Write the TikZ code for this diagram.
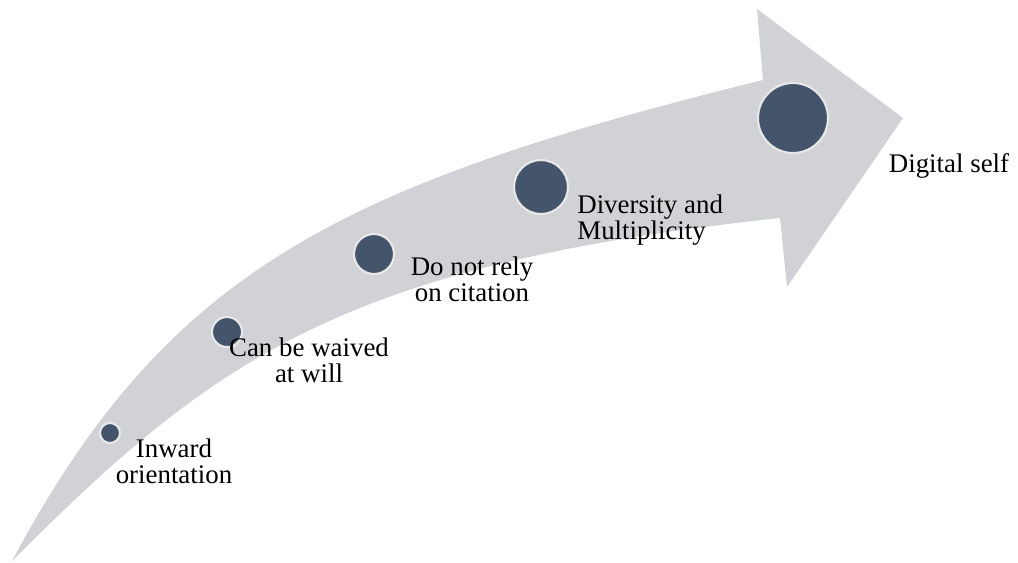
\documentclass[tikz,border=0pt]{standalone}
\usepackage{fontspec}
\setmainfont{Liberation Serif}
\definecolor{bandgray}{RGB}{208,210,214}
\definecolor{dotblue}{RGB}{68,84,106}
\definecolor{rimgray}{RGB}{232,232,232}
\begin{document}
\begin{tikzpicture}[x=0.02cm,y=-0.02cm,
  dot/.style={circle,fill=dotblue,draw=rimgray,line width=1.2pt,inner sep=0pt},
  lbl/.style={font=\fontsize{15.3}{14.8}\selectfont,align=center,inner sep=0pt}]
\useasboundingbox (0,0) rectangle (1018,562);
% band and head
\coordinate (T) at (12,561); \coordinate (U) at (763,80); \coordinate (H1) at (757,9);
\coordinate (P) at (903,118); \coordinate (H2) at (787,287); \coordinate (L) at (780,218);
\fill[bandgray] (T) .. controls (167,271) and (338,185) .. (U) -- (H1) -- (P) -- (H2) -- (L)
  .. controls (339,265) and (212,361) .. (T) -- cycle;
\foreach \n/\x/\y/\r in {d1/110/433/10,d2/227/332/15,d3/374/254/20,d4/541/187/27,d5/793/118/35}{
  \node[dot,minimum size=2*\r*0.02cm] (\n) at (\x,\y) {};}
\node[lbl] (l1) at (174,461) {Inward\\orientation};
\node[lbl] (l2) at (309,360) {Can be waived\\at will};
\node[lbl] (l3) at (472,279) {Do not rely\\on citation};
\node[lbl,align=left,anchor=west] (l4) at (577,220) {Diversity and\\Multiplicity};
\node[lbl] (l5) at (949,166) {Digital self};
\end{tikzpicture}
\end{document}
